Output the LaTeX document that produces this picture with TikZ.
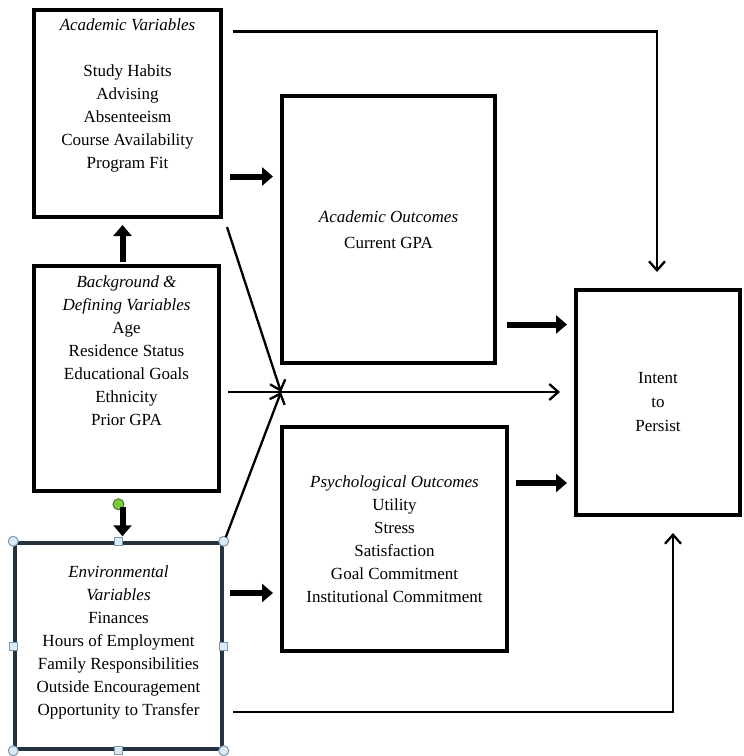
\documentclass[tikz,border=0pt]{standalone}
\usepackage{fontspec}
\setmainfont{Liberation Serif}
\usetikzlibrary{arrows.meta,positioning}
\definecolor{envslate}{RGB}{38,50,62}
\definecolor{handleblue}{RGB}{218,234,246}
\definecolor{handleedge}{RGB}{125,152,176}
\definecolor{rotgreen}{RGB}{122,204,58}

\tikzset{
  varbox/.style={draw, line width=4pt, inner sep=0pt, align=center},
  fatarrow/.style={-{Triangle[length=11pt,width=18pt]}, line width=6pt},
  thinarrow/.style={-{Straight Barb[length=9pt,width=16pt]}, line width=2.3pt},
  handlecirc/.style={circle, draw=handleedge, fill=handleblue, line width=1pt, minimum size=10pt, inner sep=0pt},
  handlesq/.style={rectangle, draw=handleedge, fill=handleblue, line width=1pt, minimum size=8pt, inner sep=0pt}
}

\begin{document}
\begin{tikzpicture}[x=1pt, y=-1pt, font=\fontsize{17}{23}\selectfont]
        \useasboundingbox (0,0) rectangle (744,756);

        % Input variables (left column)
        \node [varbox, minimum width=187pt, minimum height=207pt] (acvar) at (127.5,113.5) {};
        \node [varbox, minimum width=185pt, minimum height=225pt] (bkgd) at (126.5,378.5) {};
        \node [varbox, draw=envslate, line width=3.5pt, minimum width=207pt, minimum height=206pt] (env) at (118.5,646) {};

        \node [below=7pt of acvar.north, align=center] (acvar-text) {\textit{Academic Variables}\\[23pt]Study Habits\\Advising\\Absenteeism\\Course Availability\\Program Fit};
        \node [below=8pt of bkgd.north, align=center] (bkgd-text) {\textit{Background \&}\\\textit{Defining Variables}\\Age\\Residence Status\\Educational Goals\\Ethnicity\\Prior GPA};
        \node [below=21pt of env.north, align=center] (env-text) {\textit{Environmental}\\\textit{Variables}\\Finances\\Hours of Employment\\Family Responsibilities\\Outside Encouragement\\Opportunity to Transfer};

        % Outcomes (middle column)
        \node [varbox, minimum width=213pt, minimum height=267pt] (acout) at (388.5,229.5) {\textit{Academic Outcomes}\\[3pt]Current GPA};
        \node [varbox, minimum width=225pt, minimum height=224pt] (psych) at (394.5,539) {\textit{Psychological Outcomes}\\Utility\\Stress\\Satisfaction\\Goal Commitment\\Institutional Commitment};

        % Result
        \node [varbox, minimum width=164pt, minimum height=225pt] (intent) at (658,402.5) {Intent\\[1pt]to\\[1pt]Persist};

        % Selection handles on the environmental box
        \foreach \c in {north west, north east, south west, south east}
            \node [handlecirc] at (env.\c) {};
        \foreach \c in {north, south, east, west}
            \node [handlesq] at (env.\c) {};
        \node [handlecirc, fill=rotgreen, draw=rotgreen!60!black, minimum size=11pt] (rot) at ([yshift=37pt]env.north) {};

        % Thick arrows
        \draw [fatarrow, shorten <=2pt, shorten >=6pt] ([xshift=-4pt]bkgd.north) -- ([xshift=-4pt]bkgd.north |- acvar.south);
        \draw [fatarrow, shorten <=14pt, shorten >=5pt] ([xshift=-4pt]bkgd.south) -- ([xshift=-4pt]bkgd.south |- env.north);
        \draw [fatarrow, shorten <=7pt, shorten >=7pt] ([yshift=-63pt]acvar.east) -- ([yshift=-63pt]acvar.east -| acout.west);
        \draw [fatarrow, shorten <=6pt, shorten >=7pt] ([yshift=53pt]env.east) -- ([yshift=53pt]env.east -| psych.west);
        \draw [fatarrow, shorten <=10pt, shorten >=7pt] ([yshift=-95pt]acout.east) -- ([yshift=-95pt]acout.east -| intent.west);
        \draw [fatarrow, shorten <=7pt, shorten >=7pt] ([yshift=56pt]psych.east) -- ([yshift=56pt]psych.east -| intent.west);

        % Thin arrows
        \coordinate (join) at (281,392);
        \draw [thinarrow] ([xshift=4pt,yshift=-8pt]acvar.south east) -- (join);
        \draw [thinarrow] ([xshift=2pt,yshift=4pt]env.north east) -- (join);
        \draw [thinarrow, shorten >=14pt] ([xshift=7pt]bkgd.east |- join) -- (join -| intent.west);
        \draw [thinarrow, shorten >=16pt] ([xshift=10pt,yshift=82pt]acvar.east) -| ([xshift=-1pt]intent.north);
        \draw [thinarrow, shorten >=16pt] ([xshift=9pt,yshift=-66pt]env.east) -| ([xshift=15pt]intent.south);
    \end{tikzpicture}
\end{document}
